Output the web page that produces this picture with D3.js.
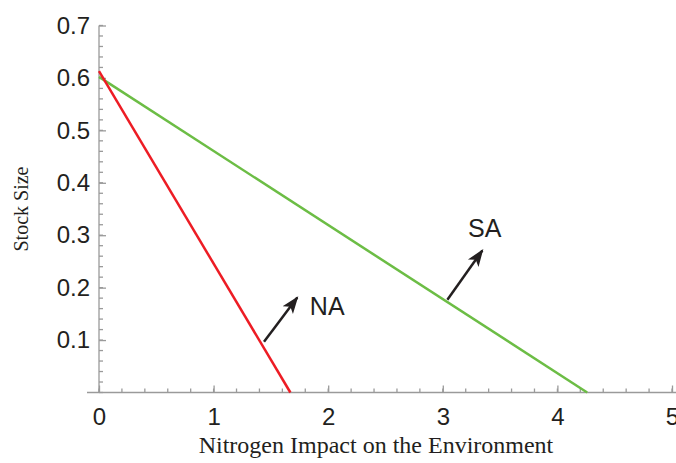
<!DOCTYPE html>
<meta charset="utf-8">
<title>Stock Size vs Nitrogen Impact</title>
<style>
body { margin: 0; background: #fff; }
svg { font-family: "Liberation Sans", Arial, sans-serif; }
.axis path, .axis line { stroke: #9a9a9a; stroke-width: 1.3; fill: none; }
.tick text { font-size: 24px; fill: #231f20; }
.alabel { font-family: "Liberation Serif", "Times New Roman", serif; fill: #231f20; }
</style>
<body>
<script src="https://cdn.jsdelivr.net/npm/d3@7"></script>
<script>

// frontier lines: [nitrogen impact, stock size]
var naLine = [[0, 0.613], [1.67, 0]];
var saLine = [[0, 0.602], [4.26, 0]];

// annotation arrows: tail -> head, and label anchors
var naArrow = [[1.44, 0.097], [1.73, 0.181]];
var saArrow = [[3.04, 0.177], [3.345, 0.271]];
var labels = [
  {text: "NA", x: 1.84, y: 0.147},
  {text: "SA", x: 3.22, y: 0.296}
];

var xTicks = [0, 1, 2, 3, 4, 5];
var yTicks = [0.1, 0.2, 0.3, 0.4, 0.5, 0.6, 0.7];

var width = 676, height = 463;

var x = d3.scaleLinear().domain([0, 5]).range([99, 672]);
var y = d3.scaleLinear().domain([0, 0.7]).range([392.5, 25.5]);

var svg = d3.select("body").append("svg")
    .attr("width", width)
    .attr("height", height);

// minor ticks
var xMinor = d3.range(0, 5.001, 0.2);
var yMinor = d3.range(0, 0.7001, 0.02);

svg.append("g")
    .attr("class", "axis")
    .selectAll("line")
    .data(xMinor)
  .enter().append("line")
    .attr("x1", function(d) { return x(d); })
    .attr("x2", function(d) { return x(d); })
    .attr("y1", y(0))
    .attr("y2", y(0) - 4);

svg.append("g")
    .attr("class", "axis")
    .selectAll("line")
    .data(yMinor)
  .enter().append("line")
    .attr("y1", function(d) { return y(d); })
    .attr("y2", function(d) { return y(d); })
    .attr("x1", x(0))
    .attr("x2", x(0) + 4);

var xAxis = d3.axisBottom(x)
    .tickValues(xTicks)
    .tickFormat(d3.format("d"))
    .tickSizeInner(-7)
    .tickSizeOuter(0)
    .tickPadding(15.5);

var yAxis = d3.axisLeft(y)
    .tickValues(yTicks)
    .tickFormat(d3.format(".1f"))
    .tickSizeInner(-7)
    .tickSizeOuter(0)
    .tickPadding(9);

var gx = svg.append("g")
    .attr("class", "x axis")
    .attr("transform", "translate(0," + y(0) + ")")
    .call(xAxis);
gx.select(".domain").attr("d", "M87,0H676");

var gy = svg.append("g")
    .attr("class", "y axis")
    .attr("transform", "translate(" + x(0) + ",0)")
    .call(yAxis);
gy.select(".domain").attr("d", "M0," + y(0) + "V" + y(0.7));

// lines
var line = d3.line()
    .x(function(d) { return x(d[0]); })
    .y(function(d) { return y(d[1]); });

svg.append("path")
    .datum(saLine)
    .attr("d", line)
    .attr("fill", "none")
    .attr("stroke", "#6cbd45")
    .attr("stroke-width", 2.5);

svg.append("path")
    .datum(naLine)
    .attr("d", line)
    .attr("fill", "none")
    .attr("stroke", "#ed1c24")
    .attr("stroke-width", 2.5);

// arrows
svg.append("defs").append("marker")
    .attr("id", "head")
    .attr("viewBox", "0 0 10 10")
    .attr("refX", 9)
    .attr("refY", 5)
    .attr("markerWidth", 7)
    .attr("markerHeight", 7)
    .attr("markerUnits", "strokeWidth")
    .attr("orient", "auto")
  .append("path")
    .attr("d", "M0,1.3L10,5L0,8.7L2.5,5Z")
    .attr("fill", "#231f20");

svg.selectAll(".arrow")
    .data([naArrow, saArrow])
  .enter().append("path")
    .attr("class", "arrow")
    .attr("d", line)
    .attr("stroke", "#231f20")
    .attr("stroke-width", 2.5)
    .attr("fill", "none")
    .attr("marker-end", "url(#head)");

svg.selectAll(".lbl")
    .data(labels)
  .enter().append("text")
    .attr("class", "lbl")
    .attr("x", function(d) { return x(d.x); })
    .attr("y", function(d) { return y(d.y); })
    .attr("font-size", 25)
    .attr("fill", "#231f20")
    .text(function(d) { return d.text; });

// axis titles
svg.append("text")
    .attr("class", "alabel")
    .attr("text-anchor", "middle")
    .attr("font-size", 24)
    .attr("x", 376)
    .attr("y", 453)
    .text("Nitrogen Impact on the Environment");

svg.append("text")
    .attr("class", "alabel")
    .attr("text-anchor", "middle")
    .attr("font-size", 20)
    .attr("transform", "translate(28,209) rotate(-90)")
    .text("Stock Size");

</script>
</body>
